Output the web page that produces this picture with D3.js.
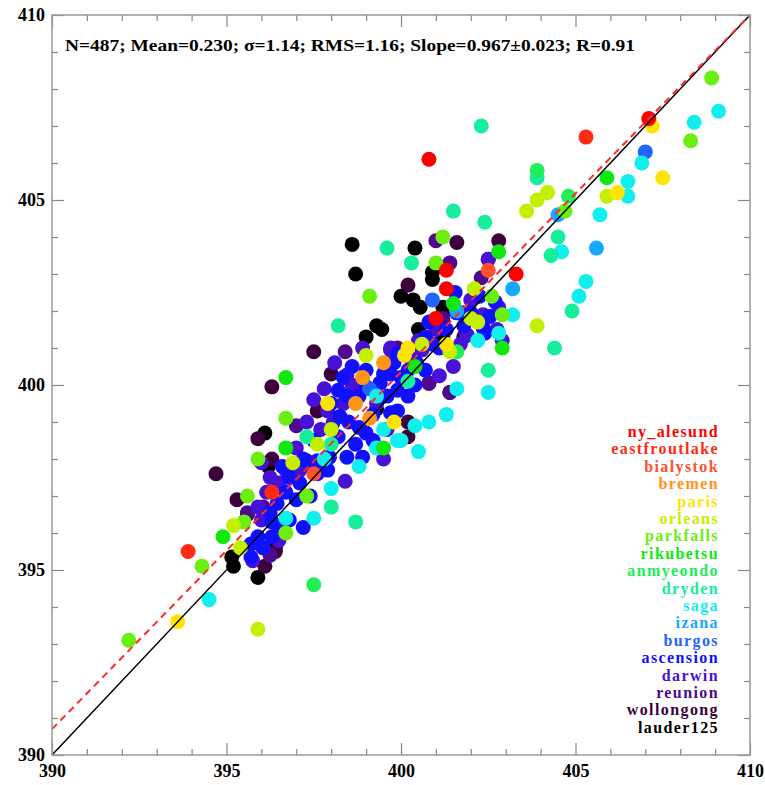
<!DOCTYPE html>
<html>
<head>
<meta charset="utf-8">
<script src="https://cdn.jsdelivr.net/npm/d3@7"></script>
<style>
  body { margin: 0; background: #fff; }
  text { font-family: "Liberation Serif", "Times New Roman", serif; font-weight: bold; }
</style>
</head>
<body>
<svg id="chart"></svg>
<script>
// station values, [x, y] in ppm
const ny_alesund = [[400.8,406.1],[407.1,407.2],[401.3,403.1],[401.3,402.6],[401.0,401.8],[403.3,403.0]];
const eastfroutlake = [[393.9,395.5],[405.3,406.7],[396.3,397.1]];
const bialystok = [[402.5,403.1],[397.5,397.6]];
const bremen = [[398.9,400.2],[398.7,399.5],[399.5,400.6],[399.1,399.1]];
const paris = [[407.2,407.0],[407.5,405.6],[406.2,405.2],[393.6,393.6],[397.9,399.5],[399.8,399.0],[400.1,400.8],[401.3,401.1],[400.2,401.0]];
const orleans = [[395.9,393.4],[395.2,396.2],[396.9,397.9],[403.6,404.7],[403.9,405.0],[404.2,405.2],[405.9,405.1],[403.9,401.6],[402.1,402.6],[402.0,401.8],[400.6,401.1],[399.0,400.8],[398.0,398.8],[397.6,398.4],[395.4,395.6],[402.2,401.7],[401.4,400.9]];
const parkfalls = [[408.9,408.3],[408.3,406.6],[392.2,393.1],[394.3,395.1],[395.6,397.0],[395.5,396.3],[396.7,396.0],[397.3,397.0],[395.9,398.0],[399.1,402.4],[396.7,399.1],[401.0,403.3],[402.6,402.4],[402.9,401.9],[404.7,404.7],[401.2,404.0]];
const rikubetsu = [[396.7,400.2],[396.7,398.3],[402.8,403.6],[405.9,405.6],[401.5,402.2],[402.9,401.0],[394.9,395.9],[399.5,398.3],[400.4,400.5]];
const anmyeondo = [[397.5,394.6],[404.8,405.1],[403.9,405.8],[401.6,400.9]];
const dryden = [[402.3,407.0],[401.5,404.7],[402.4,404.4],[399.6,403.7],[400.3,403.3],[404.5,404.0],[404.3,403.5],[403.9,405.6],[404.9,402.0],[404.4,401.0],[398.2,401.6],[402.5,400.4],[398.0,396.7],[398.7,396.3],[397.3,398.6],[398.0,398.4],[400.2,400.1]];
const saga = [[409.1,407.4],[408.4,407.1],[406.9,406.0],[406.5,405.5],[406.5,405.1],[405.7,404.6],[404.6,403.6],[405.3,402.8],[405.1,402.4],[403.2,401.9],[402.8,401.4],[402.2,401.2],[401.6,399.9],[402.5,399.8],[401.3,399.2],[400.8,399.0],[400.4,398.9],[400.0,398.5],[400.5,398.2],[394.5,394.2],[397.5,396.4],[396.7,396.4],[398.0,397.2],[398.8,397.8],[399.3,398.3],[399.5,398.8],[399.9,398.5],[399.3,399.7],[397.8,398.0]];
const izana = [[405.6,403.7],[403.2,402.6],[404.5,404.6],[401.6,402.0]];
const burgos = [[407.0,406.3],[400.9,402.3],[399.1,399.9]];
const ascension = [[398.2,399.86],[398.35,400.2],[398.6,400.5],[398.45,399.7],[398.25,399.15],[398.8,399.7],[399.0,399.95],[399.4,400.05],[399.6,399.7],[399.9,399.86],[400.2,399.7],[399.9,399.3],[399.7,399.25],[398.8,398.85],[399.0,398.7],[399.2,398.5],[398.7,398.4],[398.45,398.05],[398.9,398.05],[397.95,398.05],[397.9,397.7],[400.0,400.2],[399.8,400.6],[400.2,400.4],
  [396.6,397.8],[396.8,397.5],[397.1,397.35],[397.4,397.8],[397.6,397.6],[396.7,397.1],[396.45,396.8],[397.0,396.9],[396.25,396.55],[396.8,396.35],[396.5,396.15],[397.2,396.15],[396.3,395.9],[395.9,395.9],[395.7,395.7],[396.05,395.6],[395.7,395.35],[396.3,396.3],[397.4,397.0],[397.6,397.95],
  [401.55,402.5],[402.25,402.4],[402.35,401.55],[402.4,401.4],[402.7,402.25],[402.0,401.95],[401.6,401.95],[400.8,401.7],[400.7,400.4],[400.45,400.6],[400.05,400.2],[399.7,400.3],[399.4,400.05],[399.9,400.85],[401.1,401.0],[402.55,401.85],
  [398.0,399.5],[398.5,399.0],[399.2,399.2],[400.4,400.0],[400.9,401.1],[401.3,401.5],[399.0,400.4],[397.5,398.5],[397.2,398.0],[398.2,398.6],[399.5,400.3],[400.7,401.3],[401.8,401.6]];
const darwin = [[398.45,400.27],[398.6,400.0],[397.7,398.8],[398.05,398.97],[398.35,399.5],[399.3,399.5],[399.7,400.95],[397.1,397.7],[396.7,397.7],[399.6,398.8],
  [395.9,396.7],[396.15,397.1],[396.0,396.35],[395.75,395.25],[396.5,395.8],[396.8,397.8],[397.3,397.95],[396.25,397.5],[396.5,397.35],
  [402.5,403.4],[402.8,402.1],[402.35,401.9],[402.0,402.3],[402.75,401.5],[402.9,401.2],[401.7,401.1],[401.9,401.35],[401.0,401.5],[400.6,400.95],[400.25,400.75],[399.7,401.0],[401.1,400.25],
  [397.5,399.6],[397.8,399.9],[398.1,400.6],[397.3,399.0],[397.9,399.3],[398.9,401.0],[400.5,401.2],[401.5,400.5],[399.5,398.0],[398.4,397.4],[397.0,398.3],[396.0,397.9]];
const reunion = [[401.0,403.9],[401.4,403.3],[401.75,401.95],[399.9,401.0],[395.6,396.55],[396.05,396.7],[396.25,395.4],[400.8,400.05],[401.4,399.8],[401.2,401.8],[398.4,400.9],[397.0,398.9],[402.3,402.9]];
const wollongong = [[401.6,403.85],[402.8,403.9],[400.2,402.7],[401.8,401.3],[400.8,400.05],[401.4,399.8],[397.5,400.9],[396.3,399.95],[395.9,398.55],[398.0,400.3],[397.6,399.3],[400.2,399.0],[400.2,398.6],[394.7,397.6],[396.3,398.0],[395.3,396.9],[395.6,396.5],[396.05,395.6],[396.1,395.1],[396.4,395.5],[402.5,403.4]];
const lauder125 = [[398.6,403.8],[398.7,403.0],[400.4,403.7],[400.9,403.05],[400.9,402.85],[400.0,402.4],[400.35,402.3],[400.55,402.1],[401.2,402.1],[401.2,401.9],[399.3,401.6],[399.45,401.5],[400.5,401.5],[399.0,401.3],[399.3,399.35],[396.1,398.7],[396.2,397.8],[395.15,395.35],[395.2,395.1],[395.9,394.8],[396.4,395.6],[401.2,401.3]];

const stationNames = ["ny_alesund","eastfroutlake","bialystok","bremen","paris","orleans","parkfalls","rikubetsu","anmyeondo","dryden","saga","izana","burgos","ascension","darwin","reunion","wollongong","lauder125"];
const stationData = [ny_alesund,eastfroutlake,bialystok,bremen,paris,orleans,parkfalls,rikubetsu,anmyeondo,dryden,saga,izana,burgos,ascension,darwin,reunion,wollongong,lauder125];
const stationColors = ["#ff0000","#ff2a14","#ff5030","#ff9618","#ffe400","#c2f000","#6cee10","#10e810","#22ee5a","#16ee9c","#10eeee","#16a8ff","#2264ff","#1010ff","#4812d6","#4e0a8c","#3c003c","#000000"];

const statsText = "N=487; Mean=0.230; \u03c3=1.14; RMS=1.16; Slope=0.967\u00b10.023; R=0.91";
const fitStart = [390, 390.7];
const fitEnd = [410, 410.05];
const axisDomain = [390, 410];
const majorTicks = [390, 395, 400, 405, 410];

const width = 765, height = 785;
const margin = {left: 52, right: 15, top: 15, bottom: 30};

const svg = d3.select("#chart").attr("width", width).attr("height", height);

const x = d3.scaleLinear().domain(axisDomain).range([margin.left, width - margin.right]);
const y = d3.scaleLinear().domain(axisDomain).range([height - margin.bottom, margin.top]);

// points, last station drawn first
const plot = svg.append("g");
for (let i = stationData.length - 1; i >= 0; i--) {
    plot.append("g")
        .selectAll("circle")
        .data(stationData[i])
        .enter().append("circle")
        .attr("cx", d => x(d[0]))
        .attr("cy", d => y(d[1]))
        .attr("r", 7.5)
        .attr("fill", stationColors[i]);
}

// one-to-one and fit lines
svg.append("line")
    .attr("x1", x(390)).attr("y1", y(390))
    .attr("x2", x(410)).attr("y2", y(410))
    .attr("stroke", "#000").attr("stroke-width", 1.5);
svg.append("line")
    .attr("x1", x(fitStart[0])).attr("y1", y(fitStart[1]))
    .attr("x2", x(fitEnd[0])).attr("y2", y(Math.min(fitEnd[1], 410)))
    .attr("stroke", "#ff2a2a").attr("stroke-width", 2)
    .attr("stroke-dasharray", "7,5");

// axes, ticks pointing inward
const minorTicks = d3.range(391, 410).filter(v => v % 5 !== 0);
function styleAxis(g) {
    g.selectAll(".domain").remove();
    g.selectAll("line").attr("stroke", "#888").attr("stroke-width", 1.2);
    g.selectAll("text").attr("fill", "#000").style("font-size", "18px");
}
const bottom = height - margin.bottom, right = width - margin.right;
svg.append("g").attr("transform", `translate(0,${bottom})`)
    .call(d3.axisBottom(x).tickValues(majorTicks).tickSize(-12).tickPadding(9).tickFormat(d3.format("d")))
    .call(styleAxis);
svg.append("g").attr("transform", `translate(0,${bottom})`)
    .call(d3.axisBottom(x).tickValues(minorTicks).tickSize(-6).tickFormat(""))
    .call(styleAxis);
svg.append("g").attr("transform", `translate(${margin.left},0)`)
    .call(d3.axisLeft(y).tickValues(majorTicks).tickSize(-12).tickPadding(7).tickFormat(d3.format("d")))
    .call(styleAxis);
svg.append("g").attr("transform", `translate(${margin.left},0)`)
    .call(d3.axisLeft(y).tickValues(minorTicks).tickSize(-6).tickFormat(""))
    .call(styleAxis);
svg.append("g").attr("transform", `translate(0,${margin.top})`)
    .call(d3.axisTop(x).tickValues(majorTicks).tickSize(-12).tickFormat(""))
    .call(styleAxis);
svg.append("g").attr("transform", `translate(0,${margin.top})`)
    .call(d3.axisTop(x).tickValues(minorTicks).tickSize(-6).tickFormat(""))
    .call(styleAxis);
svg.append("g").attr("transform", `translate(${right},0)`)
    .call(d3.axisRight(y).tickValues(majorTicks).tickSize(-12).tickFormat(""))
    .call(styleAxis);
svg.append("g").attr("transform", `translate(${right},0)`)
    .call(d3.axisRight(y).tickValues(minorTicks).tickSize(-6).tickFormat(""))
    .call(styleAxis);

svg.append("rect")
    .attr("x", margin.left).attr("y", margin.top)
    .attr("width", right - margin.left).attr("height", bottom - margin.top)
    .attr("fill", "none").attr("stroke", "#999").attr("stroke-width", 1.5);

// stats line
svg.append("text")
    .attr("x", 65).attr("y", 51)
    .attr("textLength", 570).attr("lengthAdjust", "spacingAndGlyphs")
    .style("font-size", "17px")
    .text(statsText);

// legend
const legend = svg.append("g");
legend.selectAll("text")
    .data(stationNames)
    .enter().append("text")
    .attr("x", 719)
    .attr("y", (d, i) => 437 + i * 17.4)
    .attr("text-anchor", "end")
    .attr("fill", (d, i) => stationColors[i])
    .style("font-size", "16px")
    .style("letter-spacing", "1.4px")
    .text(d => d);
</script>
</body>
</html>
